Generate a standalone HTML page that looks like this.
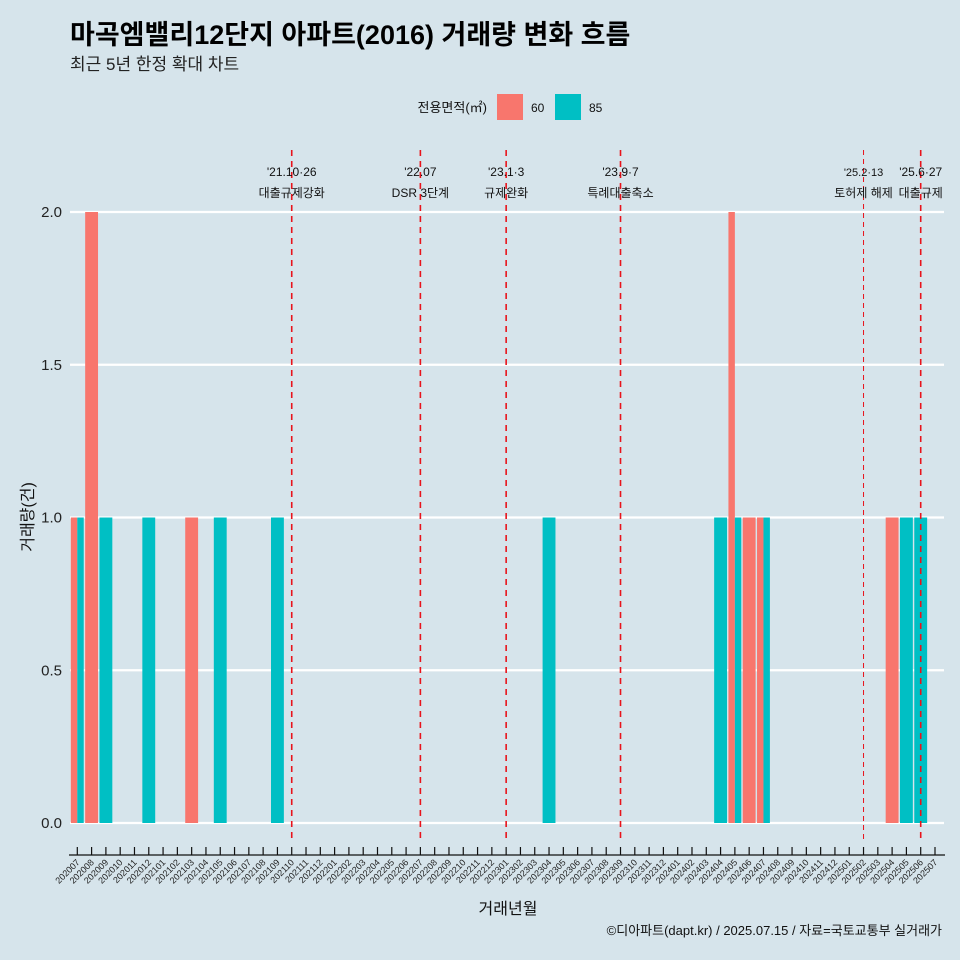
<!DOCTYPE html>
<html><head><meta charset="utf-8"><style>
html,body{margin:0;padding:0;background:#D6E4EB;}
svg{display:block;font-family:"Liberation Sans","Noto Sans CJK KR",sans-serif;}
</style></head><body>
<svg id="chart" width="960" height="960" viewBox="0 0 960 960" xmlns="http://www.w3.org/2000/svg">
<rect width="960" height="960" fill="#D6E4EB"/>
<text x="70" y="44" font-size="27" font-weight="bold" fill="#000">마곡엠밸리12단지 아파트(2016) 거래량 변화 흐름</text>
<text x="70" y="70" font-size="17" fill="#222">최근 5년 한정 확대 차트</text>
<g>
<text x="487" y="112" font-size="13" text-anchor="end" fill="#111">전용면적(㎡)</text>
<rect x="497" y="94" width="26" height="26" fill="#F8766D"/>
<text x="531" y="112" font-size="12" fill="#111">60</text>
<rect x="555" y="94" width="26" height="26" fill="#00BFC4"/>
<text x="589" y="112" font-size="12" fill="#111">85</text>
</g>
<g id="grid"></g><g id="bars"></g><g id="vlines"></g><g id="axes"></g>
<text x="508" y="914" font-size="16" text-anchor="middle" fill="#111">거래년월</text>
<text transform="translate(33,517) rotate(-90)" font-size="16" text-anchor="middle" fill="#111">거래량(건)</text>
<text x="942" y="935" font-size="13" text-anchor="end" fill="#111">©디아파트(dapt.kr) / 2025.07.15 / 자료=국토교통부 실거래가</text>
</svg>
<script>
const months = [];
for (let y = 2020; y <= 2025; y++) for (let m = 1; m <= 12; m++) {
  const k = y * 100 + m; if (k >= 202007 && k <= 202507) months.push(String(k));
}
const series60 = {"202007":1,"202008":2,"202103":1,"202405":2,"202406":1,"202407":1,"202504":1};
const series85 = {"202007":1,"202009":1,"202012":1,"202105":1,"202109":1,"202304":1,"202404":1,"202405":1,"202407":1,"202505":1,"202506":1};
const yTicks = [0, 0.5, 1.0, 1.5, 2.0];
const yTickLabels = ["0.0","0.5","1.0","1.5","2.0"];
const eventMonths = ["202110","202207","202301","202309","202502","202506"];
const eventDates = ["'21.10·26","'22.07","'23.1·3","'23.9·7","'25.2·13","'25.6·27"];
const eventNames = ["대출규제강화","DSR 3단계","규제완화","특례대출축소","토허제 해제","대출규제"];

const NS = "http://www.w3.org/2000/svg";
const x0 = 77.3, step = 14.295, y0 = 823, yScale = 305.5;
const xPos = i => x0 + i * step;
const yPos = v => y0 - v * yScale;
function mk(tag, attrs, parent) {
  const e = document.createElementNS(NS, tag);
  for (const k in attrs) e.setAttribute(k, attrs[k]);
  parent.appendChild(e); return e;
}
const grid = document.getElementById('grid'), bars = document.getElementById('bars'),
      vl = document.getElementById('vlines'), axes = document.getElementById('axes');
yTicks.forEach((t, i) => {
  const l = mk('line', {x1: 70, x2: 944, y1: yPos(t), y2: yPos(t), stroke: '#fff', 'stroke-width': 2.2}, grid);
  
  
  const tx = mk('text', {x: 62, y: yPos(t) + 5, 'font-size': 15, 'text-anchor': 'end', fill: '#222'}, axes);
  tx.textContent = yTickLabels[i];
  
  
});
const bw = step * 0.9;
months.forEach((m, i) => {
  const a = series60[m], b = series85[m];
  const cx = xPos(i);
  const parts = [];
  if (a) parts.push([a, '#F8766D', 'bar-60-' + m]);
  if (b) parts.push([b, '#00BFC4', 'bar-85-' + m]);
  const w = parts.length ? bw / parts.length : 0;
  parts.forEach((p, j) => {
    const r = mk('rect', {x: cx - bw / 2 + j * w, y: yPos(p[0]), width: w, height: y0 - yPos(p[0]), fill: p[1]}, bars);
    
    
  });
});
eventMonths.forEach((m, i) => {
  const x = xPos(months.indexOf(m));
  const thin = m === '202502';
  const l = mk('line', {x1: x, x2: x, y1: 150, y2: 842, stroke: '#E8131B', 'stroke-width': thin ? 1 : 1.6, 'stroke-dasharray': thin ? '5,4' : '6,5'}, vl);
  
  
  const t1 = mk('text', {x: x, y: 176, 'font-size': thin ? 11 : 12, 'text-anchor': 'middle', fill: '#111'}, vl);
  t1.textContent = eventDates[i];
  
  
  const t2 = mk('text', {x: x, y: 197, 'font-size': 12, 'text-anchor': 'middle', fill: '#111'}, vl);
  t2.textContent = eventNames[i];
  
  
});
const ax = mk('line', {x1: 69, x2: 945, y1: 855, y2: 855, stroke: '#111', 'stroke-width': 1.2}, axes);


months.forEach((m, i) => {
  const x = xPos(i);
  const tk = mk('line', {x1: x, x2: x, y1: 847, y2: 855, stroke: '#111', 'stroke-width': 1.2}, axes);
  
  
  const t = mk('text', {x: x + 3, y: 863, 'font-size': 9, 'text-anchor': 'end', fill: '#222', transform: `rotate(-45 ${x + 3} 863)`}, axes);
  t.textContent = m;
  
  
});
</script>
</body></html>
